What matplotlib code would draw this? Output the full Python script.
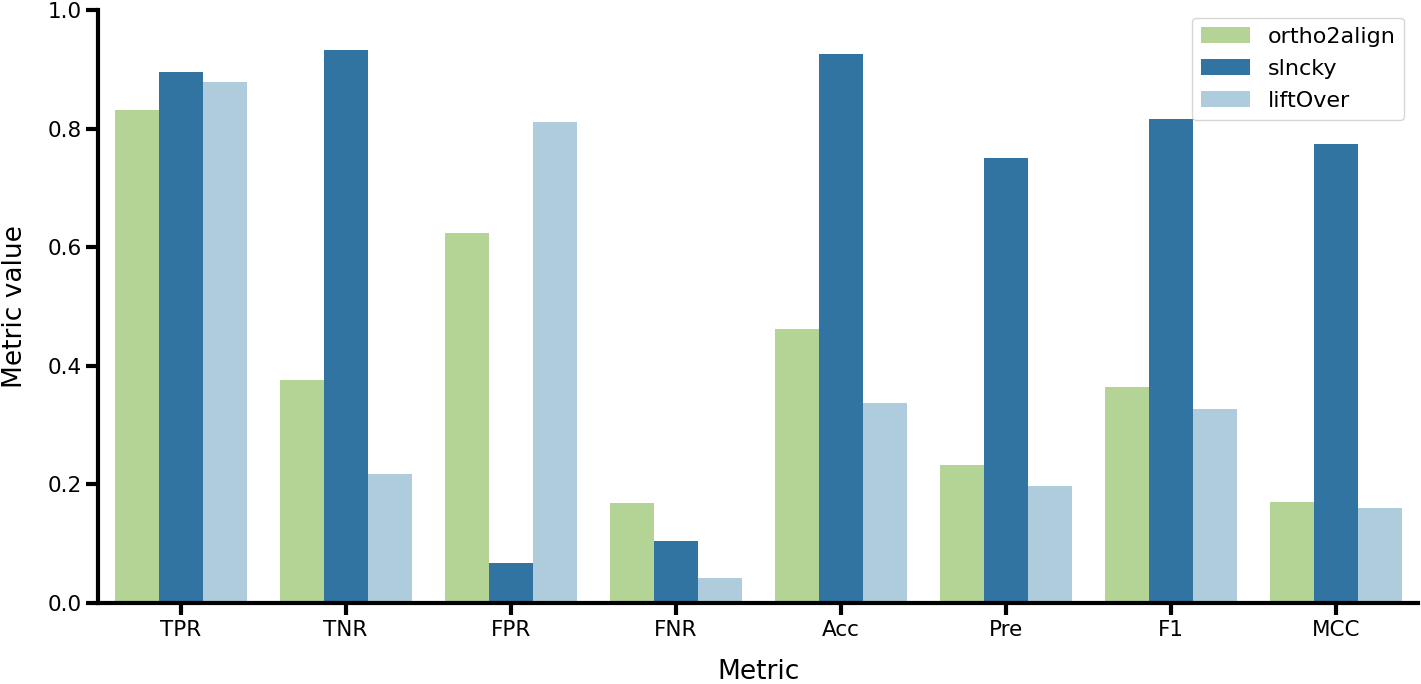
import numpy as np
import pandas as pd
import matplotlib
matplotlib.use("Agg")
import matplotlib.pyplot as plt
import seaborn as sns

metrics = ["TPR", "TNR", "FPR", "FNR", "Acc", "Pre", "F1", "MCC"]
tools = ["ortho2align", "slncky", "liftOver"]
ortho2align = [0.831, 0.376, 0.624, 0.169, 0.462, 0.233, 0.364, 0.170]
slncky = [0.895, 0.933, 0.067, 0.105, 0.926, 0.750, 0.816, 0.774]
liftover = [0.879, 0.218, 0.811, 0.042, 0.337, 0.197, 0.327, 0.160]

rows = []
for name, vals in zip(tools, [ortho2align, slncky, liftover]):
    for m, v in zip(metrics, vals):
        rows.append({"Metric": m, "Metric value": v, "tool": name})
df = pd.DataFrame(rows)

plt.rcParams['font.family'] = ['DejaVu Sans']

pal = ["#b2df8a", "#1f78b4", "#a6cee3"]

fig = plt.figure(figsize=(14.21, 6.84), dpi=100)
ax = fig.add_axes([0.069, 0.1184, 0.929, 0.867])
sns.barplot(data=df, x="Metric", y="Metric value", hue="tool",
            hue_order=tools, order=metrics, palette=pal, saturation=0.75,
            linewidth=0, ax=ax)

ax.set_ylim(0, 1.0)
ax.set_xlim(-0.5, 7.5)
ax.set_yticks([0.0, 0.2, 0.4, 0.6, 0.8, 1.0])
sns.despine(ax=ax)
for s in ["left", "bottom"]:
    ax.spines[s].set_linewidth(3)
    ax.spines[s].set_color("black")
ax.tick_params(axis="both", width=3, length=8.5, labelsize=15.5, color="black",
               labelcolor="black")
ax.set_xlabel("Metric", fontsize=19, labelpad=14)
ax.set_ylabel("Metric value", fontsize=19, labelpad=14)
leg = ax.legend(loc="upper right", fontsize=16, frameon=True, title=None,
                bbox_to_anchor=(0.9895, 0.987), borderaxespad=0,
                labelspacing=0.55, handlelength=2.2)

fig.savefig("out.png", dpi=100)
